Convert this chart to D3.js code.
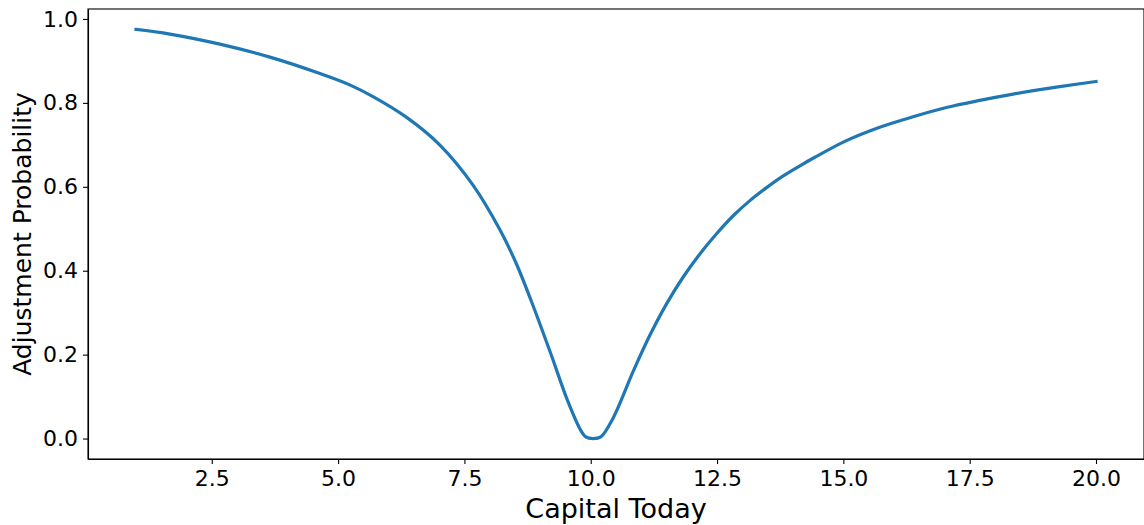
<!DOCTYPE html>
<html>
<head>
<meta charset="utf-8">
<script src="https://cdn.jsdelivr.net/npm/d3@7"></script>
<style>
    body { margin: 0; background: #fff; }
    svg { display: block; font-family: "DejaVu Sans", sans-serif; }
    .axis text { font-family: "DejaVu Sans", sans-serif; font-size: 22px; fill: #000; }
    .axis path, .axis line { stroke: #000; stroke-width: 1.1; }
</style>
</head>
<body>
<svg id="chart" width="1144" height="525"></svg>
<script>
// values
const capital = [1.0, 1.67, 2.66, 3.65, 4.64, 5.23, 5.69, 6.35, 7.01, 7.67, 8.2, 8.53, 8.87, 9.21, 9.54, 9.8,
    9.9, 10.05, 10.2, 10.44, 10.84, 11.17, 11.5, 11.83, 12.16, 12.49, 12.82, 13.15, 13.48, 13.81, 14.14,
    14.4, 15.06, 15.72, 16.38, 17.04, 17.7, 18.36, 19.02, 19.68, 20.0];
const probability = [0.975, 0.964, 0.940, 0.909, 0.870, 0.843, 0.815, 0.766, 0.700, 0.604, 0.498, 0.416, 0.313, 0.202, 0.091, 0.020,
    0.004, 0.0, 0.004, 0.048, 0.160, 0.246, 0.321, 0.385, 0.440, 0.488, 0.531, 0.567, 0.598, 0.626, 0.650,
    0.668, 0.710, 0.742, 0.767, 0.789, 0.806, 0.821, 0.834, 0.8455, 0.851];
const xTicks = [2.5, 5.0, 7.5, 10.0, 12.5, 15.0, 17.5, 20.0];
const yTicks = [0.0, 0.2, 0.4, 0.6, 0.8, 1.0];

const data = capital.map((c, i) => ({ x: c, y: probability[i] }));

const margin = { top: 9, right: 0, bottom: 66, left: 88 };
const svg = d3.select("#chart");
const width = +svg.attr("width") - margin.left - margin.right;
const height = +svg.attr("height") - margin.top - margin.bottom;

const g = svg.append("g")
    .attr("transform", `translate(${margin.left},${margin.top})`);

// matplotlib style 5% padding around the data
const xPad = (d3.max(capital) - d3.min(capital)) * 0.05;
const yPad = (d3.max(probability) - d3.min(probability)) * 0.05;

const xScale = d3.scaleLinear()
    .domain([d3.min(capital) - xPad, d3.max(capital) + xPad])
    .range([0, width]);

const yScale = d3.scaleLinear()
    .domain([d3.min(probability) - yPad, d3.max(probability) + yPad])
    .range([height, 0]);

// X axis
g.append("g")
    .attr("class", "axis")
    .attr("transform", `translate(0,${height})`)
    .call(d3.axisBottom(xScale).tickValues(xTicks).tickFormat(d3.format(".1f"))
        .tickSizeInner(5).tickSizeOuter(0).tickPadding(6));

// Y axis
g.append("g")
    .attr("class", "axis")
    .call(d3.axisLeft(yScale).tickValues(yTicks).tickFormat(d3.format(".1f"))
        .tickSizeInner(5).tickSizeOuter(0).tickPadding(5));

// frame
g.append("rect")
    .attr("x", 0)
    .attr("y", 0)
    .attr("width", width)
    .attr("height", height)
    .attr("fill", "none")
    .attr("stroke", "#000")
    .attr("stroke-width", 1.1);

// line
const line = d3.line()
    .x(d => xScale(d.x))
    .y(d => yScale(d.y))
    .curve(d3.curveCatmullRom.alpha(0.5));

g.append("path")
    .datum(data)
    .attr("fill", "none")
    .attr("stroke", "#1f77b4")
    .attr("stroke-width", 3.2)
    .attr("stroke-linejoin", "round")
    .attr("stroke-linecap", "square")
    .attr("d", line);

// axis titles
g.append("text")
    .attr("x", width / 2)
    .attr("y", height + 59)
    .attr("text-anchor", "middle")
    .style("font-size", "27px")
    .style("fill", "#000")
    .text("Capital Today");

g.append("text")
    .attr("transform", "rotate(-90)")
    .attr("x", -height / 2)
    .attr("y", -margin.left + 31)
    .attr("text-anchor", "middle")
    .style("font-size", "25px")
    .style("fill", "#000")
    .text("Adjustment Probability");
</script>
</body>
</html>
